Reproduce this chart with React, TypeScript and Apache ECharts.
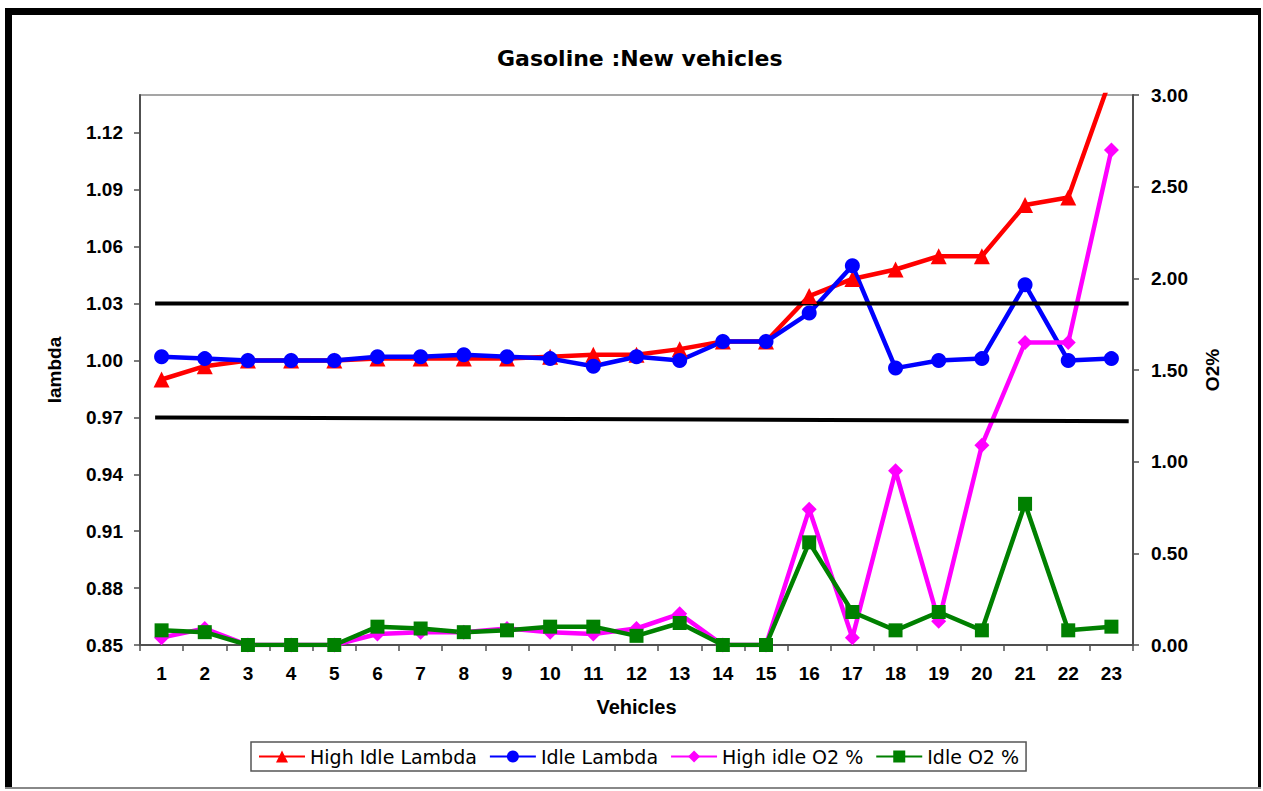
import React, { useEffect, useRef } from "react";
import * as echarts from "echarts";

const categories = ["1","2","3","4","5","6","7","8","9","10","11","12","13","14","15","16","17","18","19","20","21","22","23"];
const highIdleLambda = [0.990, 0.997, 1.000, 1.000, 1.000, 1.001, 1.001, 1.001, 1.001, 1.002, 1.003, 1.003, 1.006, 1.010, 1.010, 1.034, 1.043, 1.048, 1.055, 1.055, 1.082, 1.086, 1.150];
const idleLambda = [1.002, 1.001, 1.000, 1.000, 1.000, 1.002, 1.002, 1.003, 1.002, 1.001, 0.997, 1.002, 1.000, 1.010, 1.010, 1.025, 1.050, 0.996, 1.000, 1.001, 1.040, 1.000, 1.001];
const highIdleO2 = [0.04, 0.09, 0, 0, 0, 0.06, 0.07, 0.07, 0.09, 0.07, 0.06, 0.09, 0.17, 0, 0, 0.74, 0.04, 0.95, 0.13, 1.09, 1.65, 1.65, 2.70];
const idleO2 = [0.08, 0.07, 0, 0, 0, 0.10, 0.09, 0.07, 0.08, 0.10, 0.10, 0.05, 0.12, 0, 0, 0.56, 0.18, 0.08, 0.18, 0.08, 0.77, 0.08, 0.10];
const upperLimit = [[0.35, 1.03], [22.9, 1.03]];
const lowerLimit = [[0.35, 0.97], [22.9, 0.968]];

const ARIAL = "'Liberation Sans', Arial, sans-serif";
const DEJAVU = "'DejaVu Sans', sans-serif";

export default function App() {
  const ref = useRef<HTMLDivElement>(null);
  useEffect(() => {
    if (!ref.current) return;
    const chart = echarts.init(ref.current, null, { renderer: "svg" });
    const labelStyle = { color: "#000", fontFamily: ARIAL, fontWeight: "bold" as const, fontSize: 19 };
    const axisLine = { show: true, lineStyle: { color: "#505050", width: 2 } };
    const axisTick = { show: true, length: 6, lineStyle: { color: "#505050", width: 1.5 } };
    chart.setOption({
      animation: false,
      backgroundColor: "#fff",
      title: {
        text: "Gasoline :New vehicles",
        left: 492,
        top: 42,
        textStyle: { fontFamily: DEJAVU, fontWeight: "bold", fontSize: 22, color: "#000" },
      },
      graphic: [
        { type: "rect", shape: { x: 5, y: 8, width: 1256, height: 7 }, style: { fill: "#000" } },
        { type: "rect", shape: { x: 5, y: 8, width: 7, height: 781 }, style: { fill: "#000" } },
        { type: "rect", shape: { x: 1258, y: 8, width: 3, height: 781 }, style: { fill: "#000" } },
        { type: "rect", shape: { x: 5, y: 787, width: 1256, height: 2 }, style: { fill: "#888" } },
      ],
      legend: {
        data: ["High Idle Lambda", "Idle Lambda", "High idle O2 %", "Idle O2 %"],
        left: 251,
        top: 742,
        itemWidth: 46,
        itemHeight: 15,
        itemGap: 12,
        padding: [5, 7],
        borderColor: "#555",
        borderWidth: 1.5,
        textStyle: { fontFamily: DEJAVU, fontSize: 19, color: "#000" },
      },
      grid: { left: 140, right: 130, top: 95, bottom: 146, show: true, borderColor: "#888", borderWidth: 1.5 },
      xAxis: [
        {
          type: "category",
          data: categories,
          name: "Vehicles",
          nameLocation: "middle",
          nameGap: 52,
          nameTextStyle: { ...labelStyle, fontSize: 20 },
          axisLine,
          axisTick: { ...axisTick, alignWithLabel: false },
          axisLabel: { ...labelStyle, margin: 19 },
          splitLine: { show: false },
        },
        { type: "value", min: 0, max: 23, show: false },
      ],
      yAxis: [
        {
          type: "value",
          min: 0.85,
          max: 1.14,
          interval: 0.03,
          name: "lambda",
          nameLocation: "middle",
          nameGap: 76,
          nameRotate: 90,
          nameTextStyle: labelStyle,
          axisLine,
          axisTick,
          axisLabel: { ...labelStyle, margin: 17, showMaxLabel: false, formatter: (v: number) => v.toFixed(2) },
          splitLine: { show: false },
        },
        {
          type: "value",
          min: 0,
          max: 3,
          interval: 0.5,
          position: "right",
          name: "O2%",
          nameLocation: "middle",
          nameGap: 70,
          nameRotate: 90,
          nameTextStyle: labelStyle,
          axisLine,
          axisTick,
          axisLabel: { ...labelStyle, margin: 18, formatter: (v: number) => v.toFixed(2) },
          splitLine: { show: false },
        },
      ],
      series: [
        {
          name: "High Idle Lambda",
          type: "line",
          yAxisIndex: 0,
          data: highIdleLambda,
          symbol: "triangle",
          symbolSize: 16,
          color: "#FF0000",
          lineStyle: { width: 4.5, color: "#FF0000" },
          itemStyle: { color: "#FF0000" },
        },
        {
          name: "Idle Lambda",
          type: "line",
          yAxisIndex: 0,
          data: idleLambda,
          symbol: "circle",
          symbolSize: 15,
          color: "#0000FF",
          lineStyle: { width: 4.5, color: "#0000FF" },
          itemStyle: { color: "#0000FF" },
        },
        {
          name: "High idle O2 %",
          type: "line",
          yAxisIndex: 1,
          data: highIdleO2,
          symbol: "diamond",
          symbolSize: 15,
          color: "#FF00FF",
          lineStyle: { width: 4.5, color: "#FF00FF" },
          itemStyle: { color: "#FF00FF" },
        },
        {
          name: "Idle O2 %",
          type: "line",
          yAxisIndex: 1,
          data: idleO2,
          symbol: "rect",
          symbolSize: 14,
          color: "#008000",
          lineStyle: { width: 4.5, color: "#008000" },
          itemStyle: { color: "#008000" },
        },
        {
          name: "Upper limit",
          type: "line",
          xAxisIndex: 1,
          yAxisIndex: 0,
          data: upperLimit,
          symbol: "none",
          lineStyle: { width: 4, color: "#000" },
          silent: true,
        },
        {
          name: "Lower limit",
          type: "line",
          xAxisIndex: 1,
          yAxisIndex: 0,
          data: lowerLimit,
          symbol: "none",
          lineStyle: { width: 4, color: "#000" },
          silent: true,
        },
      ],
    });
    return () => chart.dispose();
  }, []);
  return <div ref={ref} style={{ position: "absolute", left: 0, top: 0, width: 1263, height: 791 }} />;
}
